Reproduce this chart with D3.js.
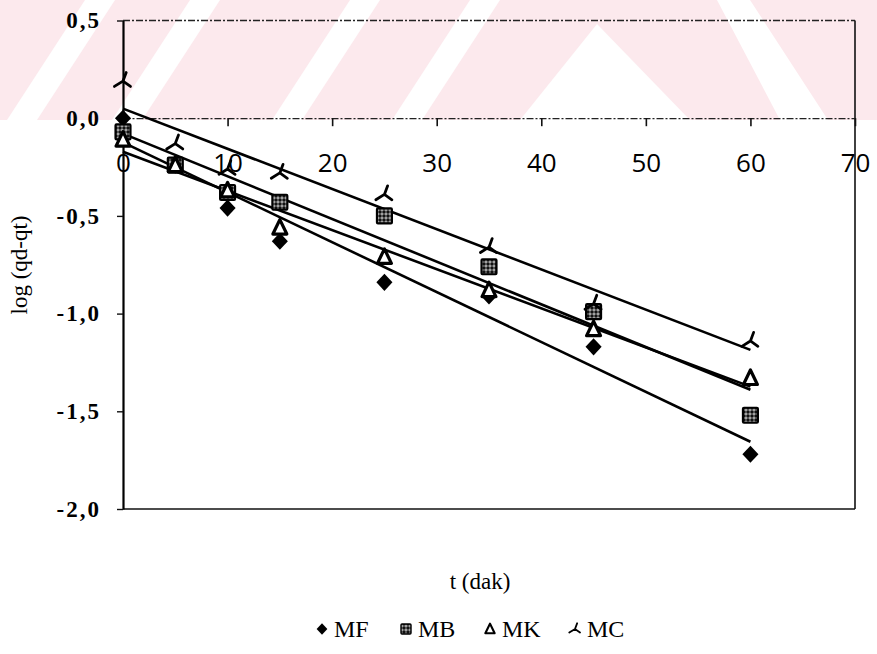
<!DOCTYPE html>
<html>
<head>
<meta charset="utf-8">
<script src="https://cdn.jsdelivr.net/npm/d3@7"></script>
<style>
  body { margin: 0; background: #fff; }
  svg { display: block; }
</style>
</head>
<body>
<svg id="chart" width="877" height="654"></svg>
<script>
// Sampling times (min) and log(qd-qt) values per sample
const times = [0, 5, 10, 15, 25, 35, 45, 60];
const seriesNames = ["MF", "MB", "MK", "MC"];
const mfValues = [0.00, -0.24, -0.46, -0.63, -0.84, -0.91, -1.17, -1.72];
const mbValues = [-0.07, -0.24, -0.38, -0.43, -0.50, -0.76, -0.99, -1.52];
const mkValues = [-0.11, -0.24, -0.37, -0.56, -0.71, -0.88, -1.08, -1.33];
const mcValues = [0.19, -0.13, -0.26, -0.28, -0.39, -0.66, -0.95, -1.14];
const xTickValues = [0, 10, 20, 30, 40, 50, 60, 70];
const yTickValues = [-2.0, -1.5, -1.0, -0.5, 0.0, 0.5];
const xTitle = "t (dak)";
const yTitle = "log (qd-qt)";

const seriesValues = [mfValues, mbValues, mkValues, mcValues];

const svg = d3.select("#chart");
const W = 877, H = 654;
const plot = { left: 123, right: 855, top: 20.5, bottom: 509 };

const x = d3.scaleLinear().domain([0, 70]).range([plot.left, plot.right]);
const y = d3.scaleLinear().domain([-2.0, 0.5]).range([plot.bottom, plot.top]);

const serif = "'Liberation Serif', 'Times New Roman', serif";

// ---- pale background stamp across the top band ----
const stamp = svg.append("g").attr("class", "stamp");
const bandH = 120;
stamp.append("rect").attr("x", 0).attr("y", 0).attr("width", W).attr("height", bandH)
  .attr("fill", "#fce9ed");
const slashTops = [85, 190, 350, 470];
slashTops.forEach(t => {
  const w = 30, shift = -78;
  stamp.append("path")
    .attr("d", `M${t},0 L${t + w},0 L${t + w + shift},${bandH} L${t + shift},${bandH} Z`)
    .attr("fill", "#fff");
});
// chevron wedge and right-hand back-slash stripe
stamp.append("path").attr("d", "M597,24 L690,120 L520,120 Z").attr("fill", "#fff");
stamp.append("path").attr("d", "M717,0 L750,0 L828,120 L780,120 Z").attr("fill", "#fff");

// ---- defs: dotted fill for the MB squares ----
const defs = svg.append("defs");
const pat = defs.append("pattern").attr("id", "dots")
  .attr("width", 4).attr("height", 4).attr("patternUnits", "userSpaceOnUse");
pat.append("rect").attr("width", 4).attr("height", 4).attr("fill", "#111");
pat.append("circle").attr("cx", 2).attr("cy", 2).attr("r", 1.1).attr("fill", "none")
  .attr("stroke", "#fff").attr("stroke-width", 0.8);

// ---- frame ----
const frame = svg.append("g").attr("class", "frame");
frame.append("line").attr("x1", plot.left).attr("x2", plot.right)
  .attr("y1", plot.top).attr("y2", plot.top)
  .attr("stroke", "#222").attr("stroke-width", 1.3).attr("stroke-dasharray", "7,2,2,2");
frame.append("line").attr("x1", plot.right).attr("x2", plot.right)
  .attr("y1", plot.top).attr("y2", plot.bottom)
  .attr("stroke", "#111").attr("stroke-width", 1.6);
frame.append("line").attr("x1", plot.left).attr("x2", plot.right)
  .attr("y1", plot.bottom).attr("y2", plot.bottom)
  .attr("stroke", "#111").attr("stroke-width", 1.6);

// ---- axes ----
const locale = d3.formatLocale({ decimal: ",", thousands: ".", grouping: [3], currency: ["", ""], minus: "-" });
const yFmt = locale.format(".1f");

const xAxis = d3.axisBottom(x).tickValues(xTickValues).tickSize(8).tickSizeOuter(0)
  .tickPadding(27).tickFormat(d3.format("d"));
const gx = svg.append("g").attr("transform", `translate(0,${y(0)})`).call(xAxis);
gx.select(".domain").attr("stroke", "#222").attr("stroke-width", 1.3).attr("stroke-dasharray", "7,2,2,2");
gx.selectAll(".tick line").attr("stroke", "#111").attr("stroke-width", 1.6);
gx.selectAll(".tick text").attr("font-family", "'Open Sans', 'DejaVu Sans', sans-serif")
  .attr("font-size", 26).attr("fill", "#000");

const yAxis = d3.axisLeft(y).tickValues(yTickValues).tickSize(6).tickSizeOuter(0)
  .tickPadding(16).tickFormat(yFmt);
const gy = svg.append("g").attr("transform", `translate(${plot.left},0)`).call(yAxis);
gy.select(".domain").attr("stroke", "#000").attr("stroke-width", 2.2);
gy.selectAll(".tick line").attr("stroke", "#111").attr("stroke-width", 1.4);
gy.selectAll(".tick text").attr("font-family", serif).attr("font-weight", "bold")
  .attr("font-size", 23).attr("letter-spacing", 2).attr("fill", "#000");

// ---- axis titles ----
svg.append("text").attr("x", 480).attr("y", 589).attr("text-anchor", "middle")
  .attr("font-family", serif).attr("font-size", 23).attr("fill", "#000").text(xTitle);
svg.append("text").attr("transform", "translate(27,265) rotate(-90)").attr("text-anchor", "middle")
  .attr("font-family", serif).attr("font-size", 23).attr("fill", "#000").text(yTitle);

// ---- least-squares trend lines ----
function fit(ts, vs) {
  const mt = d3.mean(ts), mv = d3.mean(vs);
  const sxy = d3.sum(ts, (t, i) => (t - mt) * (vs[i] - mv));
  const sxx = d3.sum(ts, t => (t - mt) * (t - mt));
  const slope = sxy / sxx;
  return { slope, intercept: mv - slope * mt };
}
const tRange = d3.extent(times);
const lineGen = d3.line().x(d => x(d[0])).y(d => y(d[1]));
const trendG = svg.append("g").attr("class", "trends");
seriesValues.forEach(vs => {
  const f = fit(times, vs);
  const pts = tRange.map(t => [t, f.intercept + f.slope * t]);
  trendG.append("path").attr("d", lineGen(pts)).attr("fill", "none")
    .attr("stroke", "#000").attr("stroke-width", 2.6);
});

// ---- marker shapes ----
function drawMarker(g, name, cx, cy, s) {
  const k = s / 14;
  if (name === "MF") {
    g.append("path").attr("transform", `translate(${cx},${cy}) scale(${k})`)
      .attr("d", "M0,-8 L7.5,0 L0,8 L-7.5,0 Z").attr("fill", "#000");
  } else if (name === "MB") {
    g.append("rect").attr("x", cx - 7 * k).attr("y", cy - 7 * k)
      .attr("width", 14 * k).attr("height", 14 * k).attr("rx", 1)
      .attr("fill", "url(#dots)").attr("stroke", "#000").attr("stroke-width", 2 * k);
  } else if (name === "MK") {
    g.append("path").attr("transform", `translate(${cx},${cy}) scale(${k})`)
      .attr("d", "M0,-7.5 L6.5,6 L-6.5,6 Z").attr("fill", "#fff")
      .attr("stroke", "#000").attr("stroke-width", 3).attr("stroke-linejoin", "round");
  } else {
    g.append("path").attr("transform", `translate(${cx},${cy}) scale(${k})`)
      .attr("d", "M3,-8 L0,0 M-8,5 L0,0 L7,5").attr("fill", "none")
      .attr("stroke", "#000").attr("stroke-width", 2.6).attr("stroke-linecap", "round");
  }
}

const markG = svg.append("g").attr("class", "markers");
seriesNames.forEach((name, si) => {
  seriesValues[si].forEach((v, i) => {
    drawMarker(markG, name, x(times[i]), y(v), 15);
  });
});

// ---- legend ----
const legend = svg.append("g").attr("class", "legend");
const legendX = [322, 406, 490, 575];
seriesNames.forEach((name, i) => {
  drawMarker(legend, name, legendX[i], 629, 10);
  legend.append("text").attr("x", legendX[i] + 12).attr("y", 637)
    .attr("font-family", serif).attr("font-size", 24).attr("fill", "#000").text(name);
});
</script>
</body>
</html>
